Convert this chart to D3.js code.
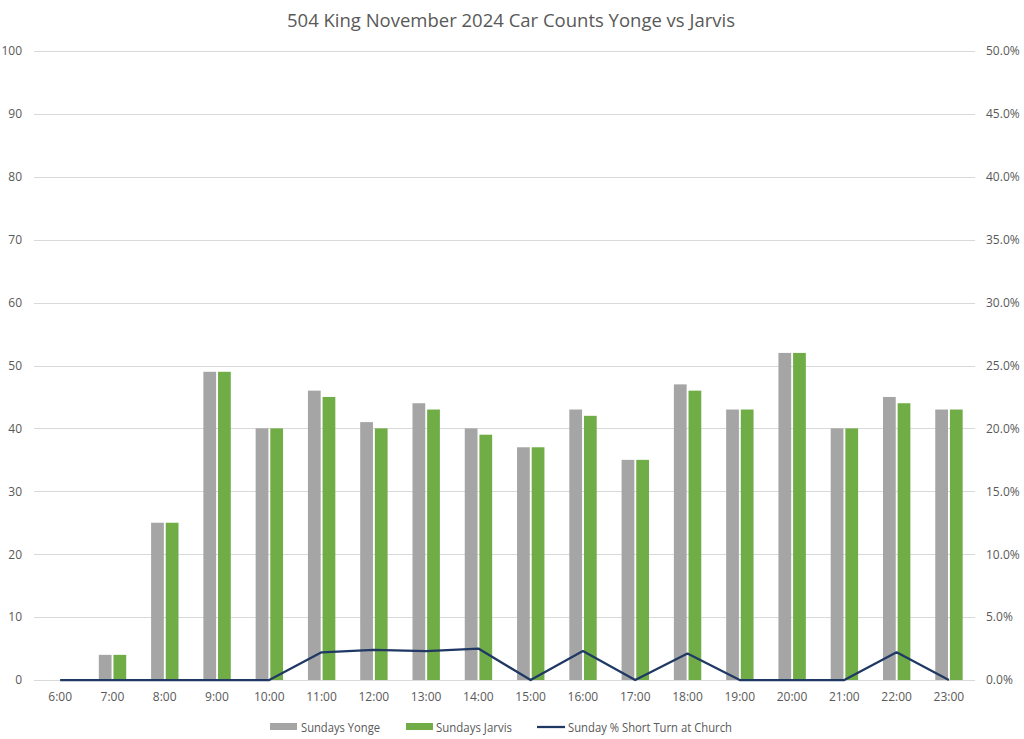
<!DOCTYPE html>
<html><head><meta charset="utf-8">
<script src="https://cdn.jsdelivr.net/npm/d3@7"></script>
<style>
html,body{margin:0;padding:0;background:#fff;}
text{font-family:"Open Sans",Lato,sans-serif;}
</style></head>
<body>
<svg id="chart" width="1024" height="739"></svg>
<script>
const categories = ["6:00","7:00","8:00","9:00","10:00","11:00","12:00","13:00","14:00","15:00","16:00","17:00","18:00","19:00","20:00","21:00","22:00","23:00"];
const yongeValues = [0,4,25,49,40,46,41,44,40,37,43,35,47,43,52,40,45,43];
const jarvisValues = [0,4,25,49,40,45,40,43,39,37,42,35,46,43,52,40,44,43];
const shortTurnPct = [0,0,0,0,0,2.2,2.4,2.3,2.5,0,2.3,0,2.1,0,0,0,2.2,0];
const leftTicks = [0,10,20,30,40,50,60,70,80,90,100];
const rightTicks = [0,5,10,15,20,25,30,35,40,45,50];
const seriesNames = ["Sundays Yonge","Sundays Jarvis","Sunday % Short Turn at Church"];
const title = "504 King November 2024 Car Counts Yonge vs Jarvis";

const svg = d3.select("#chart");
const L = 34, R = 975, T = 51, B = 680;
const textColor = "#595959";

const x = d3.scaleBand().domain(categories).range([L, R]).paddingInner(0).paddingOuter(0);
const y = d3.scaleLinear().domain([0,100]).range([B, T]);
const y2 = d3.scaleLinear().domain([0,50]).range([B, T]);
const inner = d3.scaleBand().domain(["Y","J"]).range([-13.6, 13.8]).paddingInner(0.13);

// title
svg.append("text").attr("x", 511).attr("y", 26.5).attr("text-anchor","middle")
  .attr("font-size", 18.5).attr("fill", textColor).text(title)
  .attr("textLength", 448).attr("lengthAdjust","spacingAndGlyphs");

// gridlines
svg.append("g").selectAll("line").data(leftTicks).join("line")
  .attr("x1", L).attr("x2", R)
  .attr("y1", d => Math.round(y(d)) + 0.5).attr("y2", d => Math.round(y(d)) + 0.5)
  .attr("stroke", "#d9d9d9").attr("stroke-width", 1);

// left axis
const gl = svg.append("g").attr("transform", `translate(${L},0)`)
  .call(d3.axisLeft(y).tickValues(leftTicks).tickSize(0).tickPadding(12).tickFormat(d3.format("d")));
gl.select(".domain").remove();
gl.selectAll("text").attr("font-size", 12).attr("fill", textColor).attr("font-family", '"Open Sans",sans-serif');

// right axis
const gr = svg.append("g").attr("transform", `translate(${R},0)`)
  .call(d3.axisRight(y2).tickValues(rightTicks).tickSize(0).tickPadding(11).tickFormat(d => d.toFixed(1) + "%"));
gr.select(".domain").remove();
gr.selectAll("text").attr("font-size", 12).attr("fill", textColor).attr("font-family", '"Open Sans",sans-serif');

// bottom axis
const gb = svg.append("g").attr("transform", `translate(0,${B})`)
  .call(d3.axisBottom(x).tickSize(0).tickPadding(12));
gb.select(".domain").remove();
gb.selectAll("text").attr("font-size", 12).attr("fill", textColor).attr("font-family", '"Open Sans",sans-serif');

// bars
const cx = d => x(d) + x.bandwidth()/2;
svg.append("g").selectAll("rect").data(categories.map((c,i)=>({c, v: yongeValues[i]}))).join("rect")
  .attr("x", d => cx(d.c) + inner("Y")).attr("width", inner.bandwidth())
  .attr("y", d => y(d.v)).attr("height", d => y(0) - y(d.v)).attr("fill", "#a5a5a5");
svg.append("g").selectAll("rect").data(categories.map((c,i)=>({c, v: jarvisValues[i]}))).join("rect")
  .attr("x", d => cx(d.c) + inner("J")).attr("width", inner.bandwidth())
  .attr("y", d => y(d.v)).attr("height", d => y(0) - y(d.v)).attr("fill", "#70ad47");

// line
const line = d3.line().x((d,i) => cx(categories[i])).y(d => y2(d));
svg.append("path").datum(shortTurnPct).attr("d", line).attr("fill","none")
  .attr("stroke", "#1f3864").attr("stroke-width", 2.25).attr("stroke-linejoin","round");

// legend
const lg = svg.append("g").attr("font-size", 12.5).attr("fill", textColor);
const ly = 727;
lg.append("rect").attr("x", 270).attr("y", ly-4).attr("width", 27).attr("height", 7).attr("fill", "#a5a5a5");
lg.append("text").attr("x", 301).attr("y", ly+4.5).attr("fill", textColor).text(seriesNames[0])
  .attr("textLength", 79).attr("lengthAdjust","spacingAndGlyphs");
lg.append("rect").attr("x", 406).attr("y", ly-4).attr("width", 27).attr("height", 7).attr("fill", "#70ad47");
lg.append("text").attr("x", 436).attr("y", ly+4.5).attr("fill", textColor).text(seriesNames[1])
  .attr("textLength", 76).attr("lengthAdjust","spacingAndGlyphs");
lg.append("line").attr("x1", 537).attr("x2", 565).attr("y1", ly).attr("y2", ly).attr("stroke", "#1f3864").attr("stroke-width", 2.25);
lg.append("text").attr("x", 568).attr("y", ly+4.5).attr("fill", textColor).text(seriesNames[2])
  .attr("textLength", 164).attr("lengthAdjust","spacingAndGlyphs");
</script>
</body></html>
